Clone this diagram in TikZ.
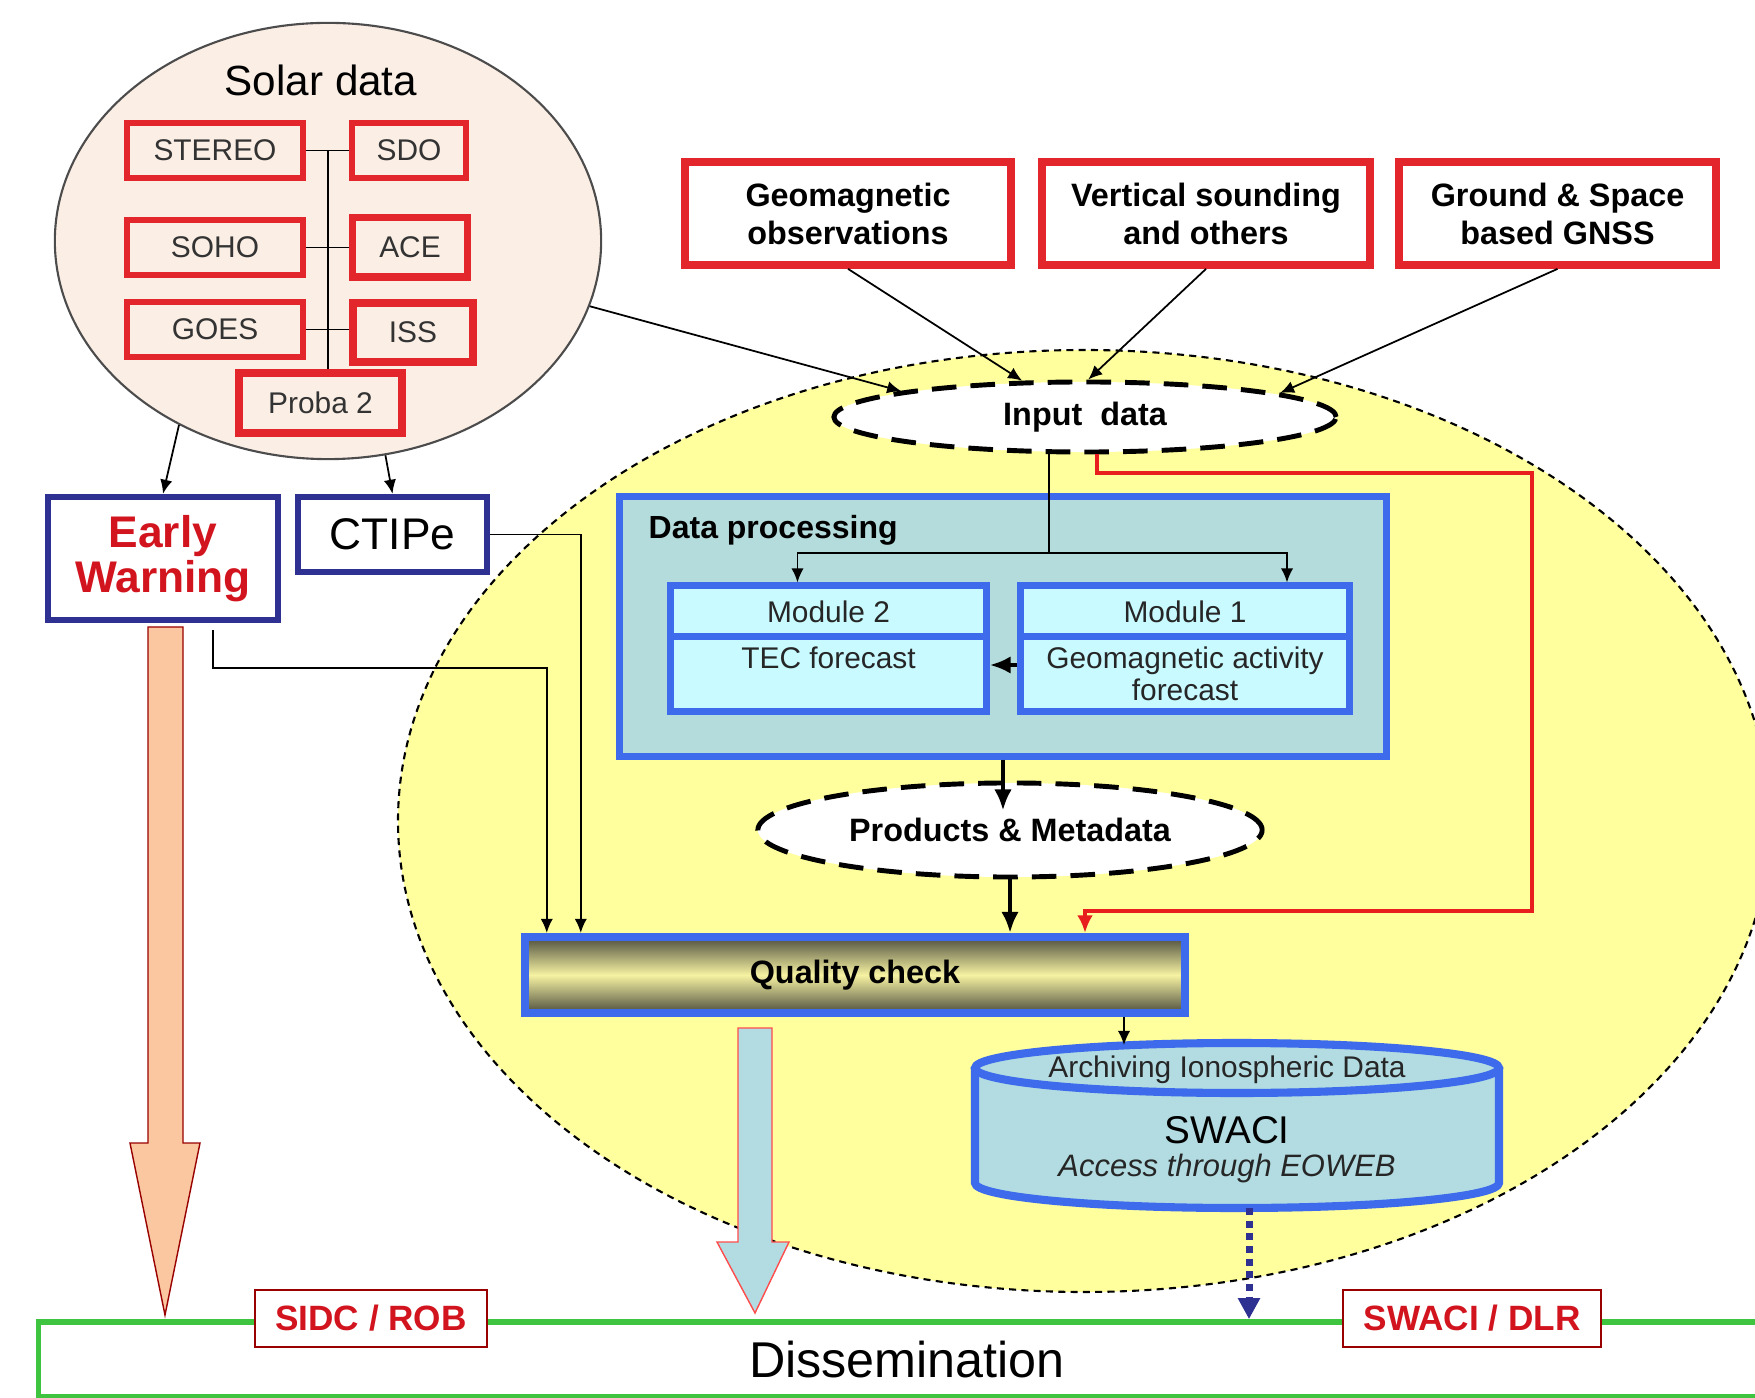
\documentclass[tikz,border=0pt]{standalone}
\usepackage{fontspec}
\setmainfont{Liberation Sans}
\usepackage{tikz}
\usetikzlibrary{shapes.geometric,arrows.meta,calc}

\definecolor{solarfill}{HTML}{FBEEE5}
\definecolor{boxred}{HTML}{E3262B}
\definecolor{navy}{HTML}{2E3192}
\definecolor{ewred}{HTML}{D2141E}
\definecolor{paleyellow}{HTML}{FFFF9E}
\definecolor{procblue}{HTML}{3D6BEB}
\definecolor{procfill}{HTML}{B4DCDC}
\definecolor{modfill}{HTML}{C8FAFF}
\definecolor{cylfill}{HTML}{B2DCE2}
\definecolor{qcdark}{HTML}{4E4E3E}
\definecolor{qclight}{HTML}{F6F2A2}
\definecolor{peach}{HTML}{FAC7A0}
\definecolor{disgreen}{HTML}{3EC43E}
\definecolor{redpath}{HTML}{E81E1E}

\tikzset{
	satbox/.style={draw=boxred, line width=1.5pt, fill=solarfill, inner sep=0pt, minimum height=0.55cm, text=black!80, font=\fontsize{8.5}{10}\selectfont},
	srcbox/.style={draw=boxred, line width=2.2pt, fill=white, inner sep=0pt, minimum height=1.03cm, align=center, font=\bfseries\fontsize{9.2}{10.8}\selectfont},
	outbox/.style={draw=navy, line width=1.8pt, fill=white, inner sep=0pt},
	dashell/.style={ellipse, draw=black, line width=1.4pt, dash pattern=on 7pt off 4pt, fill=white, inner sep=0pt, font=\bfseries\fontsize{9.2}{11}\selectfont},
	modbox/.style={draw=procblue, line width=2pt, fill=modfill, inner sep=0pt, align=center, text=black!85, font=\fontsize{8.5}{9.1}\selectfont},
	link/.style={draw=black, line width=0.5pt, -{Latex[length=4pt,width=3.5pt]}},
	flow/.style={draw=black, line width=1.3pt, -{Latex[length=6pt,width=5pt]}},
	tag/.style={draw=red!60!black, line width=0.5pt, fill=white, inner sep=0pt, minimum height=0.57cm, text=ewred, font=\bfseries\fontsize{10}{12}\selectfont}
}

\begin{document}
\begin{tikzpicture}[x=0.01cm, y=-0.01cm]
	\useasboundingbox (0,0) rectangle (1755,1398);
	
	\draw[fill=paleyellow, draw=black, line width=0.6pt, dash pattern=on 2pt off 1.5pt] (1084,821) ellipse [x radius=686, y radius=471];
	
	% solar data
	\node[ellipse, draw=black!70, line width=0.6pt, fill=solarfill, minimum width=5.46cm, minimum height=4.36cm, inner sep=0pt] (solar) at (328,241) {};
	\node[font=\fontsize{12}{14}\selectfont] (solartitle) at (321,80) {Solar data};
	\node[satbox, minimum width=1.76cm] (stereo) at (215,150.5) {STEREO};
	\node[satbox, minimum width=1.14cm] (sdo) at (409,150.5) {SDO};
	\node[satbox, minimum width=1.76cm] (soho) at (215,247.5) {SOHO};
	\node[satbox, minimum width=1.14cm, minimum height=0.59cm, line width=2pt] (ace) at (410,247.5) {ACE};
	\node[satbox, minimum width=1.76cm] (goes) at (215,329.5) {GOES};
	\node[satbox, minimum width=1.20cm, minimum height=0.59cm, line width=2.4pt] (iss) at (413,332.5) {ISS};
	\node[satbox, minimum width=1.63cm, minimum height=0.60cm, line width=2.4pt] (proba) at (320.5,403) {Proba 2};
	\coordinate (trunk) at (328,150.5);
	\draw[line width=0.5pt] (stereo.east) -- (sdo.west);
	\draw[line width=0.5pt] (soho.east) -- (ace.west);
	\draw[line width=0.5pt] (goes.east) -- (goes.east -| iss.west);
	\draw[line width=0.5pt] (trunk) -- (trunk |- proba.north);
	
	\node[outbox, minimum width=2.30cm, minimum height=1.23cm, align=center, text=ewred, font=\bfseries\fontsize{12.6}{12.8}\selectfont] (ew) at (163,558.5) {Early\\Warning};
	\node[outbox, minimum width=1.89cm, minimum height=0.75cm, font=\fontsize{12.6}{14}\selectfont] (ctipe) at (392.5,534.5) {CTIPe};
	
	\node[srcbox, minimum width=3.26cm] (geo) at (848,213.5) {Geomagnetic\\observations};
	\node[srcbox, minimum width=3.28cm] (vert) at (1206,213.5) {Vertical sounding\\and others};
	\node[srcbox, minimum width=3.17cm] (gnss) at (1557.5,213.5) {Ground \& Space\\based GNSS};
	
	\filldraw[fill=peach, draw=red!60!black, line width=0.4pt] (148,627) -- (148,1143) -- (130,1143) -- (165,1315) -- (200,1143) -- (183,1143) -- (183,627) -- cycle;
	\filldraw[fill=cylfill, draw=red!70, line width=0.4pt] (738,1028) -- (738,1242) -- (717,1242) -- (755,1313) -- (789,1242) -- (772,1242) -- (772,1028) -- cycle;
	
	% processing chain
	\node[dashell, minimum width=5.02cm, minimum height=0.70cm] (inp) at (1085,417) {Input\ \ data};
	\node[draw=procblue, line width=2pt, fill=procfill, minimum width=7.66cm, minimum height=2.59cm, inner sep=0pt] (dp) at (1003,626.5) {};
	\node[anchor=west, inner sep=0pt, font=\bfseries\fontsize{9.1}{11}\selectfont] (dptitle) at (648,530) {Data processing};
	\node[modbox, minimum width=3.15cm, minimum height=0.51cm] (m2h) at (828.5,611.5) {Module 2};
	\node[modbox, minimum width=3.15cm, minimum height=0.74cm] (m2b) at (828.5,674) {TEC forecast\\\mbox{}};
	\node[modbox, minimum width=3.28cm, minimum height=0.51cm] (m1h) at (1185,611.5) {Module 1};
	\node[modbox, minimum width=3.28cm, minimum height=0.74cm] (m1b) at (1185,674) {Geomagnetic activity\\forecast};
	\node[dashell, minimum width=5.04cm, minimum height=0.94cm] (prod) at (1010,830) {Products \& Metadata};
	\node[draw=procblue, line width=2.3pt, top color=qcdark, bottom color=qcdark, middle color=qclight, minimum width=6.60cm, minimum height=0.76cm, inner sep=0pt, font=\bfseries\fontsize{9.2}{11}\selectfont] (qc) at (855,975) {Quality check};
	
	\filldraw[draw=procblue, line width=2.3pt, fill=cylfill] (975,1068) -- (975,1183) arc[start angle=180, end angle=0, x radius=262, y radius=25] -- (1499,1068);
	\draw[draw=procblue, line width=2.3pt, fill=cylfill] (1237,1068) ellipse [x radius=262, y radius=25];
	\node[text=black!85, font=\fontsize{8.5}{10}\selectfont] (archive) at (1227,1070) {Archiving Ionospheric Data};
	\node[font=\fontsize{11}{13}\selectfont] (swaci) at (1227,1130) {SWACI};
	\node[text=black!85, font=\itshape\fontsize{8.8}{10}\selectfont] (eoweb) at (1227,1168) {Access through EOWEB};
	\coordinate (cyltop) at (1124,1045);
	\coordinate (cylbot) at (1249,1208);
	
	\node[draw=disgreen, line width=1.6pt, fill=white, minimum width=17.36cm, minimum height=0.75cm, inner sep=0pt, font=\fontsize{14.3}{16}\selectfont] (dis) at (907,1359.5) {Dissemination};
	\node[tag, minimum width=2.32cm] (sidc) at (371,1318.5) {SIDC / ROB};
	\node[tag, minimum width=2.58cm] (dlr) at (1472,1318.5) {SWACI / DLR};
	
	% connectors
	\draw[link] (solar.-14) -- (inp.172);
	\draw[link] (geo.south) -- (inp.150);
	\draw[link] (vert.south) -- (inp.85);
	\draw[link] (gnss.south) -- (inp.7);
	\draw[link] (solar.231) -- (ew.north);
	\draw[link] (solar.-75) -- (ctipe.north);
	\draw[link] (ctipe.east) -| ($(qc.north west)+(60,0)$);
	\draw[link] ($(ew.south)+(50,7)$) -- ++(0,38) -| ($(qc.north west)+(26,0)$);
	
	\coordinate (split) at (1049,553);
	\draw[line width=0.5pt] (inp.south -| split) -- (split);
	\draw[link] (split) -| ($(m2h.north)+(-31,0)$);
	\draw[link] (split) -| ($(m1h.north)+(102,0)$);
	\draw[flow] ($(m1b.west)+(0,-9)$) -- ($(m2b.east)+(0,-9)$);
	\draw[flow] (dp.south) -- ($(dp.south)+(0,51)$);
	\draw[flow] (prod.south) -- (prod.south |- qc.north);
	
	\coordinate (redturn) at (1532,473);
	\draw[draw=redpath, line width=1.3pt, -{Latex[length=5pt,width=4.5pt]}] ($(inp.south)+(12,0)$) |- (redturn) |- ($(qc.north)+(230,-22)$) -- ($(qc.north)+(230,0)$);
	
	\draw[link] ($(qc.south)+(269,0)$) -- (cyltop);
	\draw[draw=navy, line width=2pt, dash pattern=on 2pt off 1.6pt, -{Triangle[length=6pt,width=6pt]}] (cylbot) -- (cylbot |- dis.north);
\end{tikzpicture}
\end{document}
